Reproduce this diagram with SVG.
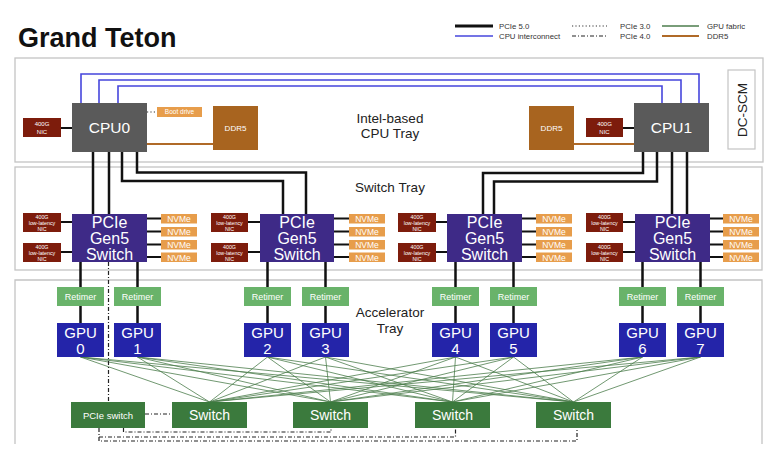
<svg xmlns="http://www.w3.org/2000/svg" width="772" height="459" viewBox="0 0 772 459">
<style>
text{font-family:"Liberation Sans",Arial,sans-serif;fill:#fff;text-anchor:middle}
.lbl{fill:#222}
.leg{fill:#333;text-anchor:start;font-size:7.8px}
.tray{fill:none;stroke:#c4c4c4;stroke-width:1.3}
.cpu{fill:#5a5a5a}
.nic{fill:#7d1c0c}
.org{fill:#e79d4b}
.ddr{fill:#a8641f}
.psw{fill:#3e2a87}
.ret{fill:#69b36a}
.gpu{fill:#2424a9}
.fsw{fill:#3b7a3d}
.pcie5{fill:none;stroke:#111;stroke-width:2.5}
.link{fill:none;stroke:#111;stroke-width:2}
.blue{fill:none;stroke:#4646dc;stroke-width:1.6}
.brown{fill:none;stroke:#b06a28;stroke-width:2}
.fab{fill:none;stroke:#4c7d4c;stroke-width:0.8}
.dd{fill:none;stroke:#222;stroke-width:1.2;stroke-dasharray:4 2 1 2}
.dot{fill:none;stroke:#333;stroke-width:1.2;stroke-dasharray:1.2 2.2}
</style>

<text x="18" y="47" style="font-size:27px;font-weight:bold;fill:#111;text-anchor:start">Grand Teton</text>

<g id="legend">
<path d="M455,26H493" stroke="#111" stroke-width="3"/>
<path d="M455,36H493" class="blue"/>
<path d="M572,26H607" class="dot"/>
<path d="M572,36H607" class="dd"/>
<path d="M662,26H699" stroke="#4c7d4c" stroke-width="1.6"/>
<path d="M662,36H699" class="brown" stroke-width="2.5"/>
<text class="leg" x="499" y="29">PCIe 5.0</text>
<text class="leg" x="499" y="39">CPU interconnect</text>
<text class="leg" x="620" y="29">PCIe 3.0</text>
<text class="leg" x="620" y="39">PCIe 4.0</text>
<text class="leg" x="707" y="29">GPU fabric</text>
<text class="leg" x="707" y="39">DDR5</text>
</g>

<g id="trays">
<rect class="tray" x="15" y="58" width="748" height="104"/>
<rect class="tray" x="15" y="167" width="747" height="103"/>
<path class="tray" d="M15,444V280H762V444"/>
<text class="lbl" x="390" y="123" style="font-size:13.5px">Intel-based</text>
<text class="lbl" x="390" y="138" style="font-size:13.5px">CPU Tray</text>
<text class="lbl" x="390" y="192" style="font-size:13.5px">Switch Tray</text>
<text class="lbl" x="390" y="317" style="font-size:13.5px">Accelerator</text>
<text class="lbl" x="390" y="333" style="font-size:13.5px">Tray</text>
</g>

<g id="connectors">
<path class="blue" d="M81,103V74H699V103M99,103V80H681V103M118,103V86H662V103"/>
<path class="brown" d="M147,144H213M574,144H634"/>
<path class="link" d="M61,128H72M623,128H634"/>
<path class="dot" d="M147,112H157"/>
<path class="pcie5" d="M93,152V214M109,152V214M122,152V181H283V214M137,152V172.5H306V214M643,152V173H483V214M657,152V181.5H494V214M672,152V214M687,152V214"/>
<path class="link" d="M61,222H72M61,252H72M248,222H260M248,252H260M436,222H447M436,252H447M623,222H635M623,252H635"/>
<path class="link" d="M147,218.5H161M147,231.5H161M147,244.5H161M147,257H161M334,218.5H349M334,231.5H349M334,244.5H349M334,257H349M522,218.5H536M522,231.5H536M522,244.5H536M522,257H536M710,218.5H723M710,231.5H723M710,244.5H723M710,257H723"/>
<path class="pcie5" d="M80.5,262V287M137.5,262V287M267.5,262V287M325.5,262V287M455.5,262V287M513.5,262V287M642.5,262V287M700.5,262V287"/>
<path class="pcie5" d="M80.5,306V323M137.5,306V323M267.5,306V323M325.5,306V323M455.5,306V323M513.5,306V323M642.5,306V323M700.5,306V323"/>
<path class="fab" d="M80.5,357L209.5,402M80.5,357L330.5,402M80.5,357L452.5,402M80.5,357L573.5,402M137.5,357L209.5,402M137.5,357L330.5,402M137.5,357L452.5,402M137.5,357L573.5,402M267.5,357L209.5,402M267.5,357L330.5,402M267.5,357L452.5,402M267.5,357L573.5,402M325.5,357L209.5,402M325.5,357L330.5,402M325.5,357L452.5,402M325.5,357L573.5,402M455.5,357L209.5,402M455.5,357L330.5,402M455.5,357L452.5,402M455.5,357L573.5,402M513.5,357L209.5,402M513.5,357L330.5,402M513.5,357L452.5,402M513.5,357L573.5,402M642.5,357L209.5,402M642.5,357L330.5,402M642.5,357L452.5,402M642.5,357L573.5,402M700.5,357L209.5,402M700.5,357L330.5,402M700.5,357L452.5,402M700.5,357L573.5,402"/>
<path class="dd" d="M108.5,262V402M145,414H172M123.5,428V432H331V428M99,428V441H577V428M99,437H455.5V428"/>
</g>

<g id="cpu0"><rect class="cpu" x="72" y="103" width="75" height="49"/><text x="109.5" y="133" style="font-size:15.5px">CPU0</text></g>
<g id="cpu1"><rect class="cpu" x="634" y="103" width="75" height="49"/><text x="671.5" y="133" style="font-size:15.5px">CPU1</text></g>
<g id="nic-cpu0"><rect class="nic" x="23" y="118" width="38" height="19"/><text x="42" y="125.5" style="font-size:6px">400G</text><text x="42" y="133.5" style="font-size:6px">NIC</text></g>
<g id="nic-cpu1"><rect class="nic" x="586" y="118" width="37" height="19"/><text x="604.5" y="125.5" style="font-size:6px">400G</text><text x="604.5" y="133.5" style="font-size:6px">NIC</text></g>
<g id="boot"><rect class="org" x="157" y="107" width="45" height="10"/><text x="179.5" y="114.3" style="font-size:6.5px">Boot drive</text></g>
<g id="ddr5-0"><rect class="ddr" x="213" y="106" width="45" height="44"/><text x="235.5" y="131" style="font-size:8px">DDR5</text></g>
<g id="ddr5-1"><rect class="ddr" x="529" y="106" width="45" height="44"/><text x="551.5" y="131" style="font-size:8px">DDR5</text></g>
<g id="dcscm"><rect x="728" y="70" width="27" height="79" fill="#fff" stroke="#c4c4c4" stroke-width="1.2"/><text transform="translate(746.5,110) rotate(-90)" class="lbl" style="font-size:13.5px">DC-SCM</text></g>

<g id="psw0"><rect class="psw" x="72" y="214" width="75" height="48"/><text x="109.5" y="228" style="font-size:16px">PCIe</text><text x="109.5" y="244" style="font-size:16px">Gen5</text><text x="109.5" y="260" style="font-size:16px">Switch</text></g>
<g id="psw1"><rect class="psw" x="260" y="214" width="74" height="48"/><text x="297" y="228" style="font-size:16px">PCIe</text><text x="297" y="244" style="font-size:16px">Gen5</text><text x="297" y="260" style="font-size:16px">Switch</text></g>
<g id="psw2"><rect class="psw" x="447" y="214" width="75" height="48"/><text x="484.5" y="228" style="font-size:16px">PCIe</text><text x="484.5" y="244" style="font-size:16px">Gen5</text><text x="484.5" y="260" style="font-size:16px">Switch</text></g>
<g id="psw3"><rect class="psw" x="635" y="214" width="75" height="48"/><text x="672.5" y="228" style="font-size:16px">PCIe</text><text x="672.5" y="244" style="font-size:16px">Gen5</text><text x="672.5" y="260" style="font-size:16px">Switch</text></g>

<g id="nics-sw" style="font-size:5.3px">
<g id="nic0a"><rect class="nic" x="23" y="213" width="38" height="19"/><text x="42" y="218.5">400G</text><text x="42" y="224.5">low-latency</text><text x="42" y="230.5">NIC</text></g>
<g id="nic0b"><rect class="nic" x="23" y="243" width="38" height="19"/><text x="42" y="248.5">400G</text><text x="42" y="254.5">low-latency</text><text x="42" y="260.5">NIC</text></g>
<g id="nic1a"><rect class="nic" x="211" y="213" width="37" height="19"/><text x="229.5" y="218.5">400G</text><text x="229.5" y="224.5">low-latency</text><text x="229.5" y="230.5">NIC</text></g>
<g id="nic1b"><rect class="nic" x="211" y="243" width="37" height="19"/><text x="229.5" y="248.5">400G</text><text x="229.5" y="254.5">low-latency</text><text x="229.5" y="260.5">NIC</text></g>
<g id="nic2a"><rect class="nic" x="398" y="213" width="38" height="19"/><text x="417" y="218.5">400G</text><text x="417" y="224.5">low-latency</text><text x="417" y="230.5">NIC</text></g>
<g id="nic2b"><rect class="nic" x="398" y="243" width="38" height="19"/><text x="417" y="248.5">400G</text><text x="417" y="254.5">low-latency</text><text x="417" y="260.5">NIC</text></g>
<g id="nic3a"><rect class="nic" x="586" y="213" width="37" height="19"/><text x="604.5" y="218.5">400G</text><text x="604.5" y="224.5">low-latency</text><text x="604.5" y="230.5">NIC</text></g>
<g id="nic3b"><rect class="nic" x="586" y="243" width="37" height="19"/><text x="604.5" y="248.5">400G</text><text x="604.5" y="254.5">low-latency</text><text x="604.5" y="260.5">NIC</text></g>
</g>

<g id="nvme" style="font-size:8.5px">
<g id="nvme0"><rect class="org" x="161" y="214" width="36" height="9.5"/><rect class="org" x="161" y="227" width="36" height="9.5"/><rect class="org" x="161" y="240" width="36" height="9.5"/><rect class="org" x="161" y="252.5" width="36" height="9.5"/><text x="179" y="222">NVMe</text><text x="179" y="235">NVMe</text><text x="179" y="248">NVMe</text><text x="179" y="260.5">NVMe</text></g>
<g id="nvme1"><rect class="org" x="349" y="214" width="36" height="9.5"/><rect class="org" x="349" y="227" width="36" height="9.5"/><rect class="org" x="349" y="240" width="36" height="9.5"/><rect class="org" x="349" y="252.5" width="36" height="9.5"/><text x="367" y="222">NVMe</text><text x="367" y="235">NVMe</text><text x="367" y="248">NVMe</text><text x="367" y="260.5">NVMe</text></g>
<g id="nvme2"><rect class="org" x="536" y="214" width="36" height="9.5"/><rect class="org" x="536" y="227" width="36" height="9.5"/><rect class="org" x="536" y="240" width="36" height="9.5"/><rect class="org" x="536" y="252.5" width="36" height="9.5"/><text x="554" y="222">NVMe</text><text x="554" y="235">NVMe</text><text x="554" y="248">NVMe</text><text x="554" y="260.5">NVMe</text></g>
<g id="nvme3"><rect class="org" x="723" y="214" width="36" height="9.5"/><rect class="org" x="723" y="227" width="36" height="9.5"/><rect class="org" x="723" y="240" width="36" height="9.5"/><rect class="org" x="723" y="252.5" width="36" height="9.5"/><text x="741" y="222">NVMe</text><text x="741" y="235">NVMe</text><text x="741" y="248">NVMe</text><text x="741" y="260.5">NVMe</text></g>
</g>

<g id="retimers" style="font-size:9px">
<g id="ret0"><rect class="ret" x="57" y="287" width="47" height="19"/><text x="80.5" y="299.5">Retimer</text></g>
<g id="ret1"><rect class="ret" x="114" y="287" width="47" height="19"/><text x="137.5" y="299.5">Retimer</text></g>
<g id="ret2"><rect class="ret" x="244" y="287" width="47" height="19"/><text x="267.5" y="299.5">Retimer</text></g>
<g id="ret3"><rect class="ret" x="302" y="287" width="47" height="19"/><text x="325.5" y="299.5">Retimer</text></g>
<g id="ret4"><rect class="ret" x="432" y="287" width="47" height="19"/><text x="455.5" y="299.5">Retimer</text></g>
<g id="ret5"><rect class="ret" x="490" y="287" width="47" height="19"/><text x="513.5" y="299.5">Retimer</text></g>
<g id="ret6"><rect class="ret" x="619" y="287" width="47" height="19"/><text x="642.5" y="299.5">Retimer</text></g>
<g id="ret7"><rect class="ret" x="677" y="287" width="47" height="19"/><text x="700.5" y="299.5">Retimer</text></g>
</g>

<g id="gpus" style="font-size:15px">
<g id="gpu0"><rect class="gpu" x="57" y="323" width="47" height="34"/><text x="80.5" y="337.5">GPU</text><text x="80.5" y="354">0</text></g>
<g id="gpu1"><rect class="gpu" x="114" y="323" width="47" height="34"/><text x="137.5" y="337.5">GPU</text><text x="137.5" y="354">1</text></g>
<g id="gpu2"><rect class="gpu" x="244" y="323" width="47" height="34"/><text x="267.5" y="337.5">GPU</text><text x="267.5" y="354">2</text></g>
<g id="gpu3"><rect class="gpu" x="302" y="323" width="47" height="34"/><text x="325.5" y="337.5">GPU</text><text x="325.5" y="354">3</text></g>
<g id="gpu4"><rect class="gpu" x="432" y="323" width="47" height="34"/><text x="455.5" y="337.5">GPU</text><text x="455.5" y="354">4</text></g>
<g id="gpu5"><rect class="gpu" x="490" y="323" width="47" height="34"/><text x="513.5" y="337.5">GPU</text><text x="513.5" y="354">5</text></g>
<g id="gpu6"><rect class="gpu" x="619" y="323" width="47" height="34"/><text x="642.5" y="337.5">GPU</text><text x="642.5" y="354">6</text></g>
<g id="gpu7"><rect class="gpu" x="677" y="323" width="47" height="34"/><text x="700.5" y="337.5">GPU</text><text x="700.5" y="354">7</text></g>
</g>

<g id="pcie-switch"><rect class="fsw" x="71" y="402" width="74" height="26"/><text x="108" y="418.5" style="font-size:9.5px">PCIe switch</text></g>
<g id="fabric-switches" style="font-size:14px">
<g id="fsw0"><rect class="fsw" x="172" y="402" width="75" height="26"/><text x="209.5" y="420">Switch</text></g>
<g id="fsw1"><rect class="fsw" x="293" y="402" width="75" height="26"/><text x="330.5" y="420">Switch</text></g>
<g id="fsw2"><rect class="fsw" x="415" y="402" width="75" height="26"/><text x="452.5" y="420">Switch</text></g>
<g id="fsw3"><rect class="fsw" x="536" y="402" width="75" height="26"/><text x="573.5" y="420">Switch</text></g>
</g>
</svg>
